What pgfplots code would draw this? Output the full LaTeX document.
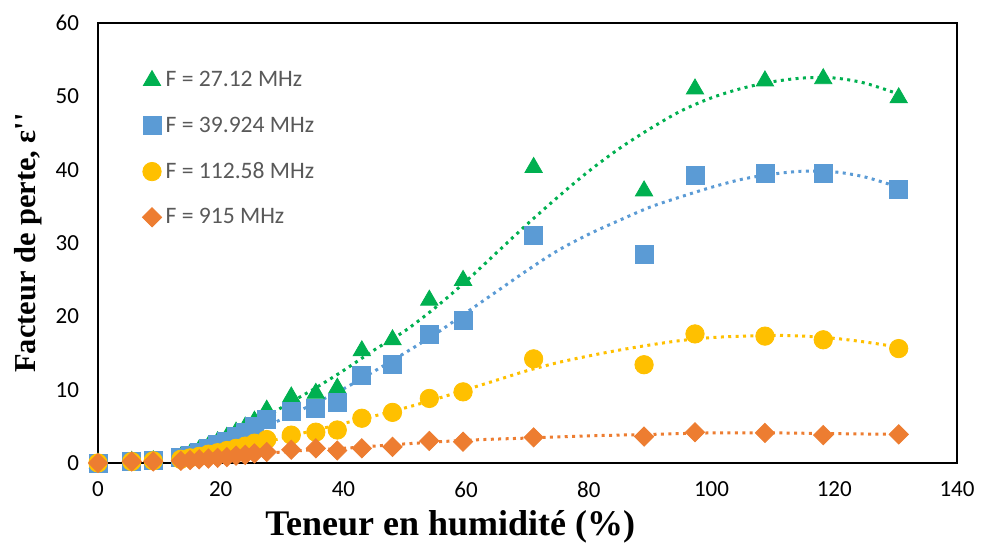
\documentclass[border=0pt]{standalone}
\usepackage{fontspec}
\setmainfont{Carlito}
\newfontfamily\timesfont{Liberation Serif}
\usepackage{pgfplots}
\pgfplotsset{compat=1.18}
\usetikzlibrary{calc}
\definecolor{cgreen}{HTML}{00B050}
\definecolor{cblue}{HTML}{5B9BD5}
\definecolor{cyellow}{HTML}{FFC000}
\definecolor{corange}{HTML}{ED7D31}
\definecolor{legtext}{HTML}{595959}
\begin{document}
\begin{tikzpicture}
\begin{axis}[
  scale only axis,
  width=429.5pt, height=220pt,
  xmin=0, xmax=140, ymin=0, ymax=60,
  xtick={0,20,...,140}, ytick={0,10,...,60},
  major tick length=0pt,
  axis line style={line width=1.3pt},
  clip=false,
  /pgf/number format/assume math mode=true,
  tick label style={font=\fontsize{11.5}{13}\selectfont, black},
  xticklabel shift=6pt,
  yticklabel shift=6pt,
  xlabel={Teneur en humidité (\%)},
  ylabel={Facteur de perte, ε''},
  xlabel style={font=\timesfont\bfseries\fontsize{18}{20}\selectfont, at={(axis description cs:0.41,-0.145)}, anchor=center},
  ylabel style={font=\timesfont\bfseries\fontsize{15.2}{17}\selectfont, at={(axis description cs:-0.0815,0.5)}, anchor=center},
  legend style={draw=none, fill=none, font=\fontsize{11.8}{13}\selectfont, text=legtext,
    at={(axis description cs:0,1)}, anchor=north west, xshift=19pt, yshift=-20pt,
    row sep=9.5pt},
  legend cell align=left,
]
% markers
\addplot[only marks, mark=triangle*, mark size=5pt, color=cgreen] coordinates {
(0,0) (5.5,0.2) (9,0.3) (13.5,0.8) (15,1.2) (16.5,1.8) (18,2.3) (19.5,2.9) (21,3.5) (22.5,4.2) (24,4.9) (25.5,5.7) (27.5,7.2) (31.5,9.0) (35.5,9.5) (39,10.2) (43,15.3) (48,16.8) (54,22.2) (59.5,24.9) (71,40.3) (89,37.1) (97.3,51.0) (108.7,52.1) (118.2,52.4) (130.5,49.8)};
\addlegendentry{F = 27.12 MHz}
\addplot[only marks, mark=square*, mark size=4.5pt, color=cblue] coordinates {
(0,0) (5.5,0.2) (9,0.3) (13.5,0.7) (15,1.1) (16.5,1.5) (18,2.0) (19.5,2.5) (21,3.0) (22.5,3.6) (24,4.2) (25.5,5.0) (27.5,6.0) (31.5,7.0) (35.5,7.5) (39,8.2) (43,12.0) (48,13.4) (54,17.6) (59.5,19.5) (71,31.0) (89,28.5) (97.3,39.2) (108.7,39.5) (118.2,39.5) (130.5,37.3)};
\addlegendentry{F = 39.924 MHz}
\addplot[only marks, mark=*, mark size=4.6pt, color=cyellow] coordinates {
(0,0) (5.5,0.2) (9,0.3) (13.5,0.5) (15,0.7) (16.5,0.9) (18,1.2) (19.5,1.4) (21,1.7) (22.5,2.0) (24,2.3) (25.5,2.7) (27.5,3.2) (31.5,3.8) (35.5,4.2) (39,4.5) (43,6.1) (48,6.9) (54,8.8) (59.5,9.7) (71,14.2) (89,13.4) (97.3,17.6) (108.7,17.3) (118.2,16.8) (130.5,15.6)};
\addlegendentry{F = 112.58 MHz}
\addplot[only marks, mark=square*, mark size=3.4pt, mark options={rotate=45}, color=corange] coordinates {
(0,0) (5.5,0.2) (9,0.2) (13.5,0.3) (15,0.4) (16.5,0.5) (18,0.6) (19.5,0.7) (21,0.8) (22.5,1.0) (24,1.1) (25.5,1.3) (27.5,1.5) (31.5,1.8) (35.5,2.0) (39,1.7) (43,2.0) (48,2.2) (54,3.0) (59.5,2.9) (71,3.5) (89,3.6) (97.3,4.2) (108.7,4.1) (118.2,3.8) (130.5,3.9)};
\addlegendentry{F = 915 MHz}
% trend lines
\addplot[forget plot, smooth, color=cgreen, line width=1.5pt, dash pattern=on 1.5pt off 2.2pt] coordinates {
(13.5,0.5) (20,2.6) (25,5.0) (30,7.6) (35,10.0) (40,12.6) (45,15.4) (50,18.0) (55,21.2) (60,24.8) (65,28.7) (70,32.6) (75,36.3) (80,39.8) (85,42.9) (90,45.6) (95,48.0) (100,49.8) (105,51.1) (110,52.0) (115,52.5) (120,52.5) (125,51.8) (130.5,50.3)};
\addplot[forget plot, smooth, color=cblue, line width=1.5pt, dash pattern=on 1.5pt off 2.2pt] coordinates {
(13.5,0.4) (20,2.2) (25,4.0) (30,6.0) (35,8.0) (40,10.1) (45,12.5) (50,15.0) (55,17.6) (60,20.5) (65,23.4) (70,26.3) (75,29.0) (80,31.2) (85,33.1) (90,34.9) (95,36.3) (100,37.6) (105,38.7) (110,39.4) (115,39.8) (120,39.7) (125,39.0) (130.5,37.6)};
\addplot[forget plot, smooth, color=cyellow, line width=1.5pt, dash pattern=on 1.5pt off 2.2pt] coordinates {
(13.5,0.3) (20,1.3) (25,2.3) (30,3.4) (35,4.4) (40,5.4) (45,6.4) (50,7.5) (55,8.7) (60,10.0) (65,11.3) (70,12.6) (75,13.7) (80,14.6) (85,15.4) (90,16.1) (95,16.7) (100,17.1) (105,17.3) (110,17.4) (115,17.3) (120,17.0) (125,16.5) (130.5,15.8)};
\addplot[forget plot, smooth, color=corange, line width=1.5pt, dash pattern=on 1.5pt off 2.2pt] coordinates {
(13.5,0.2) (20,0.7) (25,1.1) (30,1.5) (35,1.8) (40,2.0) (50,2.6) (60,3.1) (70,3.4) (80,3.7) (90,3.9) (100,4.1) (110,4.1) (120,4.0) (130.5,3.9)};
\end{axis}
\path ($(current axis.south west)+(-49pt,-41.5pt)$) rectangle ($(current axis.north east)+(12.5pt,11.5pt)$);
\end{tikzpicture}
\end{document}
